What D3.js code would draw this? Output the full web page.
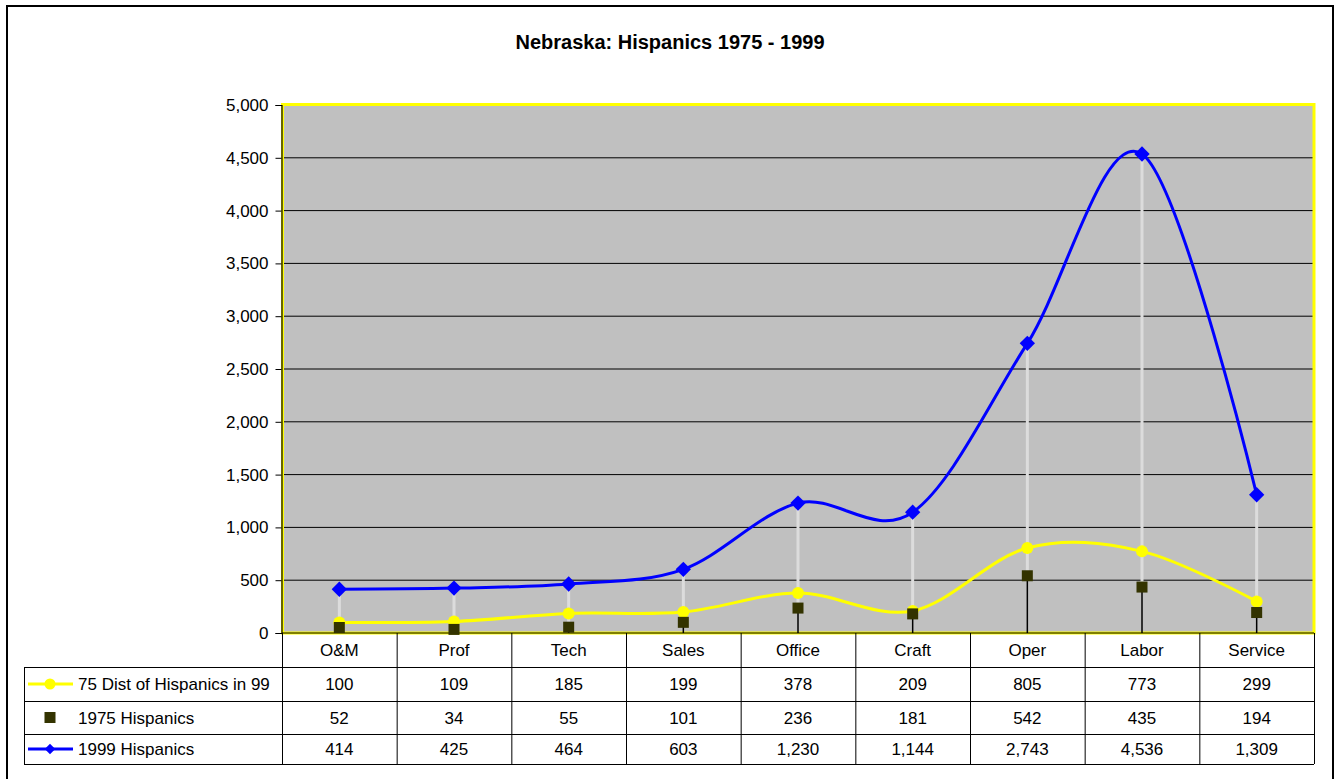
<!DOCTYPE html>
<html>
<head>
<meta charset="utf-8">
<script src="https://cdn.jsdelivr.net/npm/d3@7"></script>
<style>
  body { margin: 0; background: #fff; }
  svg { display: block; font-family: "Liberation Sans", Arial, sans-serif; }
</style>
</head>
<body>
<div id="chart"></div>
<script>
var categories = ["O&M", "Prof", "Tech", "Sales", "Office", "Craft", "Oper", "Labor", "Service"];
var dist75in99 = [100, 109, 185, 199, 378, 209, 805, 773, 299];
var hisp1975 = [52, 34, 55, 101, 236, 181, 542, 435, 194];
var hisp1999 = [414, 425, 464, 603, 1230, 1144, 2743, 4536, 1309];
var yTicks = [0, 500, 1000, 1500, 2000, 2500, 3000, 3500, 4000, 4500, 5000];
var seriesNames = ["75 Dist of Hispanics in 99", "1975 Hispanics", "1999 Hispanics"];

var W = 1336, H = 779;
var plot = {left: 282, top: 105, right: 1314, bottom: 633};
var rowH = [667, 701, 734, 764];   // bottom edges of header row and the 3 data rows
var tableLeft = 24;

var svg = d3.select("#chart").append("svg")
    .attr("width", W)
    .attr("height", H);

// outer frame (bottom edge runs off the picture)
svg.append("rect")
    .attr("x", 7).attr("y", 6)
    .attr("width", 1326).attr("height", 790)
    .attr("fill", "#fff")
    .attr("stroke", "#000")
    .attr("stroke-width", 2);

svg.append("text")
    .attr("x", 670).attr("y", 49)
    .attr("text-anchor", "middle")
    .attr("font-size", 20)
    .attr("font-weight", "bold")
    .text("Nebraska: Hispanics 1975 - 1999");

var x = d3.scaleBand()
    .domain(categories)
    .range([plot.left, plot.right]);

var y = d3.scaleLinear()
    .domain([0, 5000])
    .range([plot.bottom, plot.top]);

var cx = function(i) { return x(categories[i]) + x.bandwidth() / 2; };

// plot background
svg.append("rect")
    .attr("x", plot.left).attr("y", plot.top)
    .attr("width", plot.right - plot.left)
    .attr("height", plot.bottom - plot.top)
    .attr("fill", "#c0c0c0");

// gridlines
svg.append("g").selectAll("line")
    .data(yTicks.slice(1, -1))
    .enter().append("line")
    .attr("x1", plot.left).attr("x2", plot.right)
    .attr("y1", function(d) { return y(d); })
    .attr("y2", function(d) { return y(d); })
    .attr("stroke", "#000")
    .attr("stroke-width", 1);

// yellow plot border
svg.append("rect")
    .attr("x", plot.left + 0.5).attr("y", plot.top - 0.5)
    .attr("width", plot.right - plot.left - 0.5)
    .attr("height", plot.bottom - plot.top + 0.5)
    .attr("fill", "none")
    .attr("stroke", "#ffff00")
    .attr("stroke-width", 3);

// y axis
var yAxis = svg.append("g")
    .attr("transform", "translate(" + (plot.left - 0.5) + ",0)")
    .call(d3.axisLeft(y).tickValues(yTicks).tickFormat(d3.format(",")).tickSizeOuter(0).tickSize(6).tickPadding(7));
yAxis.select(".domain").attr("stroke", "#000").attr("stroke-width", 1.2);
yAxis.selectAll("text").attr("font-size", 17).attr("fill", "#000")
    .attr("font-family", "Liberation Sans, Arial, sans-serif");

// x axis line at 0
svg.append("line")
    .attr("x1", plot.left).attr("x2", plot.right)
    .attr("y1", y(0)).attr("y2", y(0))
    .attr("stroke", "#000").attr("stroke-width", 1);

// drop lines: black from axis to 1975, light gray from 1975 to 1999
svg.append("g").selectAll("line")
    .data(hisp1975)
    .enter().append("line")
    .attr("x1", function(d, i) { return cx(i); })
    .attr("x2", function(d, i) { return cx(i); })
    .attr("y1", y(0))
    .attr("y2", function(d) { return y(d); })
    .attr("stroke", "#000")
    .attr("stroke-width", 1.5);

svg.append("g").selectAll("line")
    .data(hisp1999)
    .enter().append("line")
    .attr("x1", function(d, i) { return cx(i); })
    .attr("x2", function(d, i) { return cx(i); })
    .attr("y1", function(d, i) { return y(hisp1975[i]); })
    .attr("y2", function(d) { return y(d); })
    .attr("stroke", "#dcdcdc")
    .attr("stroke-width", 3);

var line = d3.line()
    .x(function(d, i) { return cx(i); })
    .y(function(d) { return y(d); })
    .curve(d3.curveCardinal.tension(0));

// yellow series
svg.append("path")
    .datum(dist75in99)
    .attr("d", line)
    .attr("fill", "none")
    .attr("stroke", "#ffff00")
    .attr("stroke-width", 3);

// blue series
svg.append("path")
    .datum(hisp1999)
    .attr("d", line)
    .attr("fill", "none")
    .attr("stroke", "#0000ff")
    .attr("stroke-width", 3);

svg.append("g").selectAll("circle")
    .data(dist75in99)
    .enter().append("circle")
    .attr("cx", function(d, i) { return cx(i); })
    .attr("cy", function(d) { return y(d); })
    .attr("r", 6)
    .attr("fill", "#ffff00");

svg.append("g").selectAll("rect")
    .data(hisp1975)
    .enter().append("rect")
    .attr("x", function(d, i) { return cx(i) - 5.5; })
    .attr("y", function(d) { return y(d) - 5.5; })
    .attr("width", 11).attr("height", 11)
    .attr("fill", "#333300");

var diamond = d3.symbol().type(d3.symbolDiamond2).size(150);
svg.append("g").selectAll("path")
    .data(hisp1999)
    .enter().append("path")
    .attr("transform", function(d, i) { return "translate(" + cx(i) + "," + y(d) + ")"; })
    .attr("d", diamond)
    .attr("fill", "#0000ff");

// data table
var table = svg.append("g").attr("stroke", "#000").attr("stroke-width", 1);
rowH.forEach(function(yy) {
  table.append("line")
      .attr("x1", tableLeft).attr("x2", plot.right)
      .attr("y1", yy + 0.5).attr("y2", yy + 0.5);
});
var colEdges = categories.map(function(c) { return x(c); }).concat([plot.right]);
colEdges.forEach(function(xx) {
  table.append("line")
      .attr("x1", xx + 0.5).attr("x2", xx + 0.5)
      .attr("y1", plot.bottom).attr("y2", rowH[3]);
});
table.append("line")
    .attr("x1", tableLeft + 0.5).attr("x2", tableLeft + 0.5)
    .attr("y1", rowH[0]).attr("y2", rowH[3]);

// category labels
svg.append("g").selectAll("text")
    .data(categories)
    .enter().append("text")
    .attr("x", function(d, i) { return cx(i); })
    .attr("y", (plot.bottom + rowH[0]) / 2 + 6)
    .attr("text-anchor", "middle")
    .attr("font-size", 17)
    .text(function(d) { return d; });

var fmt = d3.format(",");
[dist75in99, hisp1975, hisp1999].forEach(function(series, r) {
  var yMid = (rowH[r] + rowH[r + 1]) / 2 + 6;
  svg.append("g").selectAll("text")
      .data(series)
      .enter().append("text")
      .attr("x", function(d, i) { return cx(i); })
      .attr("y", yMid)
      .attr("text-anchor", "middle")
      .attr("font-size", 17)
      .text(function(d) { return fmt(d); });

  svg.append("text")
      .attr("x", 78)
      .attr("y", yMid)
      .attr("font-size", 17)
      .text(seriesNames[r]);
});

// legend keys
var keyX = 50;
var keyY = function(r) { return (rowH[r] + rowH[r + 1]) / 2; };
svg.append("line").attr("x1", 28).attr("x2", 73).attr("y1", keyY(0)).attr("y2", keyY(0))
    .attr("stroke", "#ffff00").attr("stroke-width", 3);
svg.append("circle").attr("cx", keyX).attr("cy", keyY(0)).attr("r", 5.5).attr("fill", "#ffff00");
svg.append("rect").attr("x", keyX - 5.5).attr("y", keyY(1) - 5.5).attr("width", 11).attr("height", 11)
    .attr("fill", "#333300");
svg.append("line").attr("x1", 28).attr("x2", 73).attr("y1", keyY(2)).attr("y2", keyY(2))
    .attr("stroke", "#0000ff").attr("stroke-width", 3);
svg.append("path").attr("transform", "translate(" + keyX + "," + keyY(2) + ")")
    .attr("d", d3.symbol().type(d3.symbolDiamond2).size(70)).attr("fill", "#0000ff");
</script>
</body>
</html>
